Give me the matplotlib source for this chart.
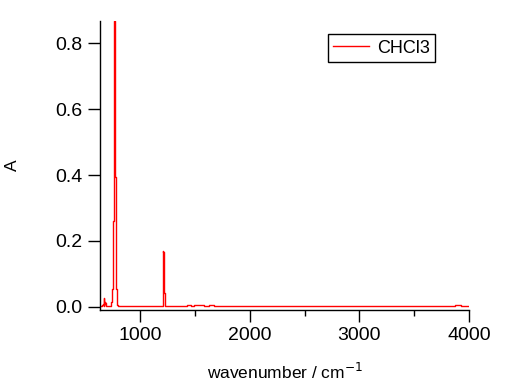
import matplotlib
matplotlib.use("Agg")
import matplotlib.pyplot as plt
from matplotlib.ticker import MultipleLocator

plt.rcParams['font.family'] = ['Liberation Sans', 'DejaVu Sans']

series_name = "CHCl3"
wavenumber = [630, 640, 650, 658, 662, 666, 668, 670, 672, 674, 676, 680, 684, 690, 700, 712,
              725, 732, 736, 742, 748, 754, 758, 762, 764, 768, 770, 774, 776, 779, 782, 788,
              794, 798, 810, 830, 860, 900, 950, 1000, 1050, 1100, 1150, 1190, 1200, 1205,
              1209, 1212, 1215, 1218, 1221, 1224, 1228, 1232, 1240, 1260, 1300, 1350, 1400,
              1450, 1480, 1500, 1520, 1540, 1560, 1600, 1650, 1700, 1800, 1900, 2000, 2200,
              2400, 2600, 2800, 3000, 3200, 3400, 3600, 3800, 3850, 3900, 3950, 4000]
absorbance = [0.002, 0.003, 0.004, 0.006, 0.010, 0.004, 0.018, 0.028, 0.012, 0.016, 0.008,
              0.012, 0.004, 0.003, 0.002, 0.002, 0.003, 0.008, 0.016, 0.055, 0.055, 0.26,
              0.26, 0.867, 0.867, 0.867, 0.867, 0.395, 0.395, 0.395, 0.055, 0.055, 0.006,
              0.003, 0.002, 0.002, 0.004, 0.002, 0.003, 0.002, 0.002, 0.003, 0.002, 0.002,
              0.003, 0.012, 0.170, 0.168, 0.165, 0.042, 0.042, 0.010, 0.004, 0.003, 0.002,
              0.003, 0.002, 0.004, 0.003, 0.005, 0.004, 0.006, 0.005, 0.007, 0.006, 0.004,
              0.005, 0.003, 0.004, 0.003, 0.003, 0.002, 0.003, 0.003, 0.002, 0.003, 0.002,
              0.003, 0.002, 0.003, 0.004, 0.005, 0.003, 0.003]

fig = plt.figure(figsize=(5.12, 3.84), dpi=100)
ax = fig.add_axes([0.195, 0.193, 0.721, 0.752])
ax.plot(wavenumber, absorbance, color='red', lw=1.0, label=series_name, drawstyle='steps-mid')

ax.set_xlim(630, 4000)
ax.set_ylim(-0.009, 0.867)
ax.set_yticks([0.0, 0.2, 0.4, 0.6, 0.8])
ax.set_yticklabels(['0.0', '0.2', '0.4', '0.6', '0.8'])
ax.set_xticks([1000, 2000, 3000, 4000])
ax.xaxis.set_minor_locator(MultipleLocator(500))

for s in ['top', 'right']:
    ax.spines[s].set_visible(False)
for s in ['left', 'bottom']:
    ax.spines[s].set_linewidth(1.0)

ax.tick_params(axis='both', which='major', direction='out', length=8.5, width=1.0,
               labelsize=14, pad=4)
ax.tick_params(axis='x', which='minor', direction='out', length=4.5, width=1.0)

fig.text(285 / 512, 1 - 372 / 384, 'wavenumber / cm$^{-1}$', fontsize=12.5,
         ha='center', va='center')
fig.text(12 / 512, 1 - 165 / 384, 'A', fontsize=12.5, rotation=90,
         ha='center', va='center')

leg = ax.legend(loc='upper right', bbox_to_anchor=(0.908, 0.955), fontsize=13,
                frameon=True, fancybox=False, edgecolor='black', framealpha=1,
                handlelength=1.95, borderpad=0.3, borderaxespad=0.0,
                handletextpad=0.45)
leg.get_frame().set_linewidth(1.0)

fig.savefig('out.png', dpi=100)
